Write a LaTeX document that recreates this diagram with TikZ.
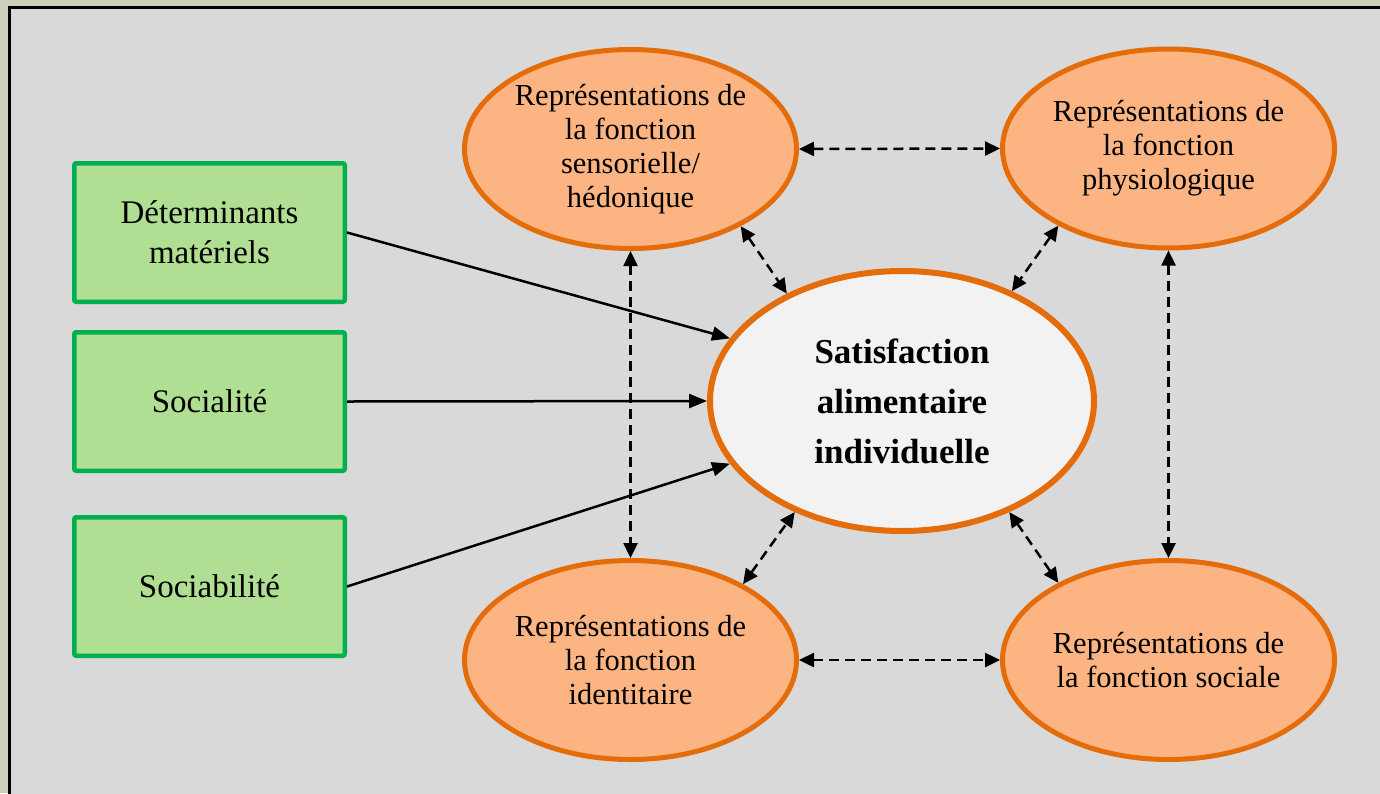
\documentclass[tikz,border=0pt]{standalone}
\usepackage{fontspec}
\setmainfont{Liberation Serif}
\usetikzlibrary{shapes.geometric,arrows.meta}
\definecolor{khaki}{HTML}{CDD1B9}
\definecolor{bggrey}{HTML}{D9D9D9}
\definecolor{boxgreen}{HTML}{00B050}
\definecolor{boxfill}{HTML}{B0DE92}
\definecolor{orangeline}{HTML}{E46C0A}
\definecolor{orangefill}{HTML}{FBB482}
\definecolor{centerfill}{HTML}{F2F2F2}
\begin{document}
\begin{tikzpicture}[x=1pt,y=-1pt,
  box/.style={draw=boxgreen, fill=boxfill, line width=4.5pt, rounded corners=2pt,
    minimum width=270.5pt, minimum height=138.5pt, inner sep=0pt, align=center,
    font=\fontsize{33}{40}\selectfont},
  oell/.style={ellipse, draw=orangeline, fill=orangefill, line width=5pt,
    minimum width=332pt, minimum height=199pt, inner sep=0pt, align=center,
    font=\fontsize{30.5}{34}\selectfont},
  cell/.style={ellipse, draw=orangeline, fill=centerfill, line width=6pt,
    minimum width=384pt, minimum height=260pt, inner sep=0pt, align=center,
    font=\bfseries\fontsize{35}{50}\selectfont},
  solidarr/.style={line width=2.5pt, -{Triangle[length=18pt,width=14pt]}},
  dasharr/.style={line width=2.5pt, dash pattern=on 10pt off 6pt,
    {Triangle[length=15pt,width=14pt]}-{Triangle[length=15pt,width=14pt]}}
]
\useasboundingbox (0,0) rectangle (1380,793);
\fill[khaki] (0,0) rectangle (1380,793);
\fill[bggrey] (9.5,7.5) rectangle (1395,810);
\draw[line width=3pt] (9.5,7.5) rectangle (1395,810);

% boxes
\node[box] (b1) at (209.5,232.5) {Déterminants\\matériels};
\node[box] (b2) at (209.5,401.5) {Socialité};
\node[box] (b3) at (209.5,586.5) {Sociabilité};

% ellipses
\node[oell] (s)  at (630.5,149) {Représentations de\\la fonction\\sensorielle/\\hédonique};
\node[oell] (p)  at (1168.5,148.5) {Représentations de\\la fonction\\physiologique};
\node[oell] (i)  at (630.5,660) {Représentations de\\la fonction\\identitaire};
\node[oell] (so) at (1168.5,660) {Représentations de\\la fonction sociale};
\node[cell] (c)  at (902,401) {Satisfaction\\alimentaire\\individuelle};

% solid arrows
\draw[solidarr] (b1.east) -- (c.160);
\draw[solidarr] (b2.east) -- (c.west);
\draw[solidarr] (b3.east) -- (c.200);

% dashed double arrows
\draw[dasharr] (s.east) -- (p.west);
\draw[dasharr] (i.east) -- (so.west);
\draw[dasharr] (s.south) -- (i.north);
\draw[dasharr] (p.south) -- (so.north);
\draw[dasharr] (s.-35) -- (c.137);
\draw[dasharr] (p.215) -- (c.45);
\draw[dasharr] (i.34) -- (c.226);
\draw[dasharr] (so.145) -- (c.-46);
\end{tikzpicture}
\end{document}
